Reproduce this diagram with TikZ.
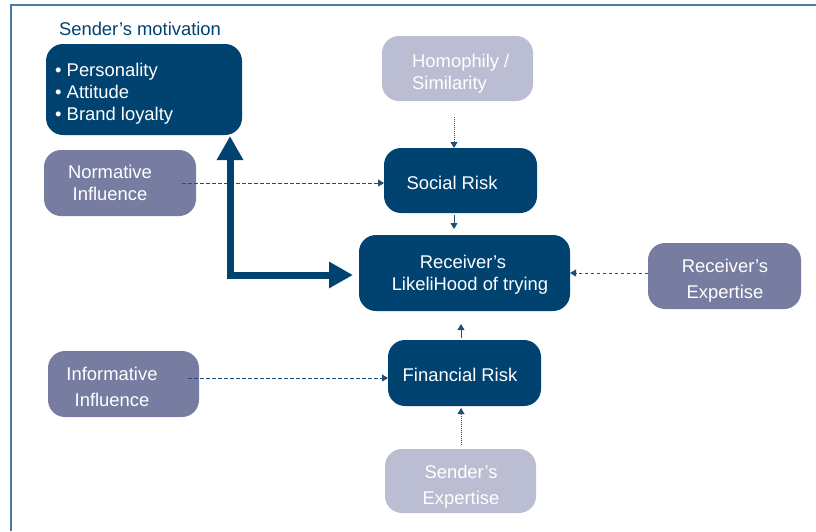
\documentclass[tikz,border=0pt]{standalone}
\usepackage{fontspec}
\setmainfont{Liberation Sans}
\usetikzlibrary{arrows.meta}
\definecolor{navy}{RGB}{0,66,112}
\definecolor{slate}{RGB}{119,125,160}
\definecolor{mist}{RGB}{187,189,210}
\definecolor{framec}{RGB}{74,122,166}
\definecolor{linkc}{RGB}{31,78,121}
\begin{document}
\begin{tikzpicture}[x=1pt,y=-1pt,
  font=\fontsize{18.4}{22}\selectfont,
  panel/.style={rounded corners=17pt, inner sep=0pt, draw=none},
  darkbox/.style={panel, fill=navy},
  midbox/.style={panel, fill=slate},
  lightbox/.style={panel, fill=mist},
  boxtext/.style={text=white, align=center, inner sep=0pt},
  thin link/.style={draw=linkc, line width=0.8pt, -{Triangle[length=6pt,width=7pt]}},
  dash link/.style={thin link, dash pattern=on 3.5pt off 2.5pt},
  dot link/.style={thin link, dash pattern=on 1pt off 1pt},
  big link/.style={draw=navy, line width=7pt, {Triangle[length=24pt,width=25pt]}-{Triangle[length=24pt,width=25pt]}}
]
\useasboundingbox (0,0) rectangle (816,531);

% frame
\draw[framec, line width=2pt] (11,531) -- (11,5) -- (816,5);

% title of the motivation block
\node[text=navy, anchor=center] (title) at (140,29) {Sender’s motivation};

% boxes
\node[darkbox, minimum width=196pt, minimum height=91pt] (motiv) at (144,89.5) {};
\node[boxtext, align=left, anchor=west] (motiv-t) at (55,94) {• Personality\\• Attitude\\• Brand loyalty};

\node[midbox, minimum width=152pt, minimum height=66pt] (norm) at (120,183) {};
\node[boxtext] (norm-t) at (110,183) {Normative\\Influence};

\node[darkbox, minimum width=153pt, minimum height=65pt] (social) at (460.5,180.5) {};
\node[boxtext] (social-t) at (452,183) {Social Risk};

\node[darkbox, minimum width=211pt, minimum height=76pt] (recv) at (464.5,273) {};
\node[boxtext] (recv-t) at (470,275) {Receiver’s\hspace*{14pt}\\LikeliHood of trying};

\node[lightbox, minimum width=151pt, minimum height=65pt] (homo) at (457.5,68.5) {};
\node[boxtext, align=left, anchor=west] (homo-t) at (412,73.5) {Homophily /\\Similarity};

\node[darkbox, minimum width=153pt, minimum height=66pt] (fin) at (464.5,373) {};
\node[boxtext] (fin-t) at (460,375) {Financial Risk};

\node[lightbox, minimum width=151pt, minimum height=64pt] (sexp) at (460.5,481) {};
\node[boxtext, font=\fontsize{18.4}{26}\selectfont] (sexp-t) at (461,487) {Sender’s\\Expertise};

\node[midbox, minimum width=153pt, minimum height=66pt] (rexp) at (724.5,276) {};
\node[boxtext, font=\fontsize{18.4}{26}\selectfont] (rexp-t) at (725,281) {Receiver’s\\Expertise};

\node[midbox, minimum width=151pt, minimum height=66pt] (info) at (123.5,384) {};
\node[boxtext, font=\fontsize{18.4}{26}\selectfont] (info-t) at (112,386.5) {Informative\\Influence};

% anchor points for the connectors
\coordinate (homo-out) at (454,117);
\coordinate (social-in) at (454,148);
\coordinate (social-out) at (454,215);
\coordinate (recv-in-top) at (454,229);
\coordinate (norm-out) at (182,183);
\coordinate (social-left) at (384,183);
\coordinate (rexp-out) at (648,273);
\coordinate (recv-right) at (570,273);
\coordinate (info-out) at (188,378);
\coordinate (fin-left) at (388,378);
\coordinate (fin-out) at (461,338);
\coordinate (recv-in-bot) at (461,324);
\coordinate (sexp-out) at (461,445);
\coordinate (fin-in) at (461,408);
\coordinate (motiv-in) at (230,136);
\coordinate (recv-left) at (353,275);

% connectors
\draw[dot link] (homo-out) -- (social-in);
\draw[thin link] (social-out) -- (recv-in-top);
\draw[dash link] (norm-out) -- (social-left);
\draw[dash link] (rexp-out) -- (recv-right);
\draw[dash link] (info-out) -- (fin-left);
\draw[thin link] (fin-out) -- (recv-in-bot);
\draw[dot link] (sexp-out) -- (fin-in);
\draw[big link] (motiv-in) |- (recv-left);
\end{tikzpicture}
\end{document}
